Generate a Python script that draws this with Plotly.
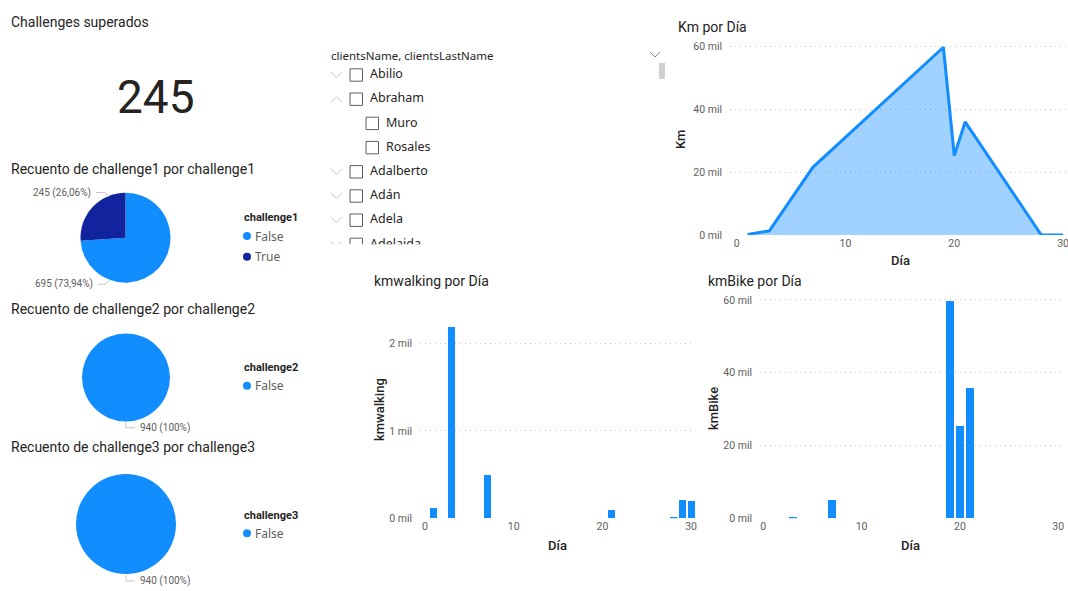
import plotly.graph_objects as go

# ---- data ----
dias_km = [1, 3, 7, 19, 20, 21, 28, 29, 30]
km_total = [200, 1300, 21500, 59600, 25200, 35900, 0, 0, 0]

dias_walk = [1, 3, 7, 21, 28, 29, 30]
km_walk = [120, 2190, 500, 90, 20, 210, 200]

dias_bike = [3, 7, 19, 20, 21]
km_bike = [300, 5000, 59600, 25300, 35800]

ch1_labels = ["False", "True"]
ch1_counts = [695, 245]
ch2_labels = ["False"]
ch2_counts = [940]
ch3_labels = ["False"]
ch3_counts = [940]

slicer_names = ["Abilio", "Abraham", "Muro", "Rosales", "Adalberto", "Adán", "Adela", "Adelaida"]
slicer_levels = [0, 0, 1, 1, 0, 0, 0, 0]
slicer_toggle = ["down", "up", None, None, "down", "down", "down", "down"]

km_ticks = [0, 20000, 40000, 60000]
walk_ticks = [0, 1000, 2000]
dia_ticks = [0, 10, 20, 30]

# ---- style ----
W, H = 1068, 591
BLUE = "#118DFF"
NAVY = "#12239E"
DARK = "#252423"
GREY = "#605E5C"
GRID = "#C8C6C4"
TFONT = "Roboto"
SFONT = "Noto Sans"


def fx(x):
    return x / W


def fy(y):
    return 1 - y / H


def mil(v):
    return f"{v // 1000} mil"


def pct(v, tot):
    return f"{v / tot * 100:.2f}".replace(".", ",") if v != tot else "100"


fig = go.Figure()

# Km por Día (area)
fig.add_trace(go.Scatter(
    x=dias_km, y=km_total, mode="lines", fill="tozeroy",
    line=dict(color=BLUE, width=3), fillcolor="rgba(17,141,255,0.4)",
    xaxis="x", yaxis="y", showlegend=False, hoverinfo="skip"))

# kmwalking por Día
fig.add_trace(go.Bar(
    x=dias_walk, y=km_walk, width=0.8, marker=dict(color=BLUE, line=dict(width=0)),
    xaxis="x2", yaxis="y2", showlegend=False, hoverinfo="skip"))

# kmBike por Día
fig.add_trace(go.Bar(
    x=dias_bike, y=km_bike, width=0.8, marker=dict(color=BLUE, line=dict(width=0)),
    xaxis="x3", yaxis="y3", showlegend=False, hoverinfo="skip"))

# pies
pies = [
    (ch1_labels, ch1_counts, [BLUE, NAVY], (80.5, 170.5), (192.7, 282.7)),
    (ch2_labels, ch2_counts, [BLUE], (82, 170), (333.5, 421.5)),
    (ch3_labels, ch3_counts, [BLUE], (76, 176), (474, 574)),
]
for labels, counts, cols, (x0, x1), (y0, y1) in pies:
    fig.add_trace(go.Pie(
        labels=labels, values=counts, sort=False, direction="clockwise", rotation=0,
        marker=dict(colors=cols, line=dict(width=0)), textinfo="none",
        domain=dict(x=[fx(x0), fx(x1)], y=[fy(y1), fy(y0)]),
        showlegend=False, hoverinfo="skip"))

# slicer list (drawn in its own pixel-scaled axes so the last row is clipped)
row_y = [75 + 24.2 * i for i in range(len(slicer_names))]
text_x = [370 if lv == 0 else 386 for lv in slicer_levels]
fig.add_trace(go.Scatter(
    x=text_x, y=row_y, mode="text", text=slicer_names, textposition="middle right",
    textfont=dict(family=SFONT, size=12.5, color=DARK), cliponaxis=True,
    xaxis="x4", yaxis="y4", showlegend=False, hoverinfo="skip"))

shapes = []
annotations = []

for yc, lv, tog in zip(row_y, slicer_levels, slicer_toggle):
    bx = 350 if lv == 0 else 366
    shapes.append(dict(type="rect", xref="x4", yref="y4", x0=bx, x1=bx + 12.5,
                       y0=yc - 6.2, y1=yc + 6.2, line=dict(color=GREY, width=1),
                       fillcolor="white"))
    if tog == "down":
        path = f"M331,{yc - 3} L336.5,{yc + 2.5} L342,{yc - 3}"
    elif tog == "up":
        path = f"M331,{yc + 3} L336.5,{yc - 2.5} L342,{yc + 3}"
    else:
        path = None
    if path:
        shapes.append(dict(type="path", xref="x4", yref="y4", path=path,
                           line=dict(color=GRID, width=1)))

# slicer header and scrollbar
annotations.append(dict(text="clientsName, clientsLastName", x=fx(329), y=fy(55),
                        xref="paper", yref="paper", xanchor="left", yanchor="middle",
                        showarrow=False, font=dict(family=SFONT, size=11.5, color=DARK)))
shapes.append(dict(type="path", xref="paper", yref="paper",
                   path=f"M{fx(650)},{fy(52)} L{fx(655)},{fy(57)} L{fx(660)},{fy(52)}",
                   line=dict(color="#8A8886", width=1)))
shapes.append(dict(type="rect", xref="paper", yref="paper", x0=fx(659), x1=fx(665),
                   y0=fy(79), y1=fy(63), line=dict(width=0), fillcolor="#D0D0D0"))


def ann(text, x, y, size=13, color=DARK, anchor="left", angle=0, weight="normal", family=TFONT):
    annotations.append(dict(text=text, x=fx(x), y=fy(y), xref="paper", yref="paper",
                            xanchor=anchor, yanchor="middle", showarrow=False, textangle=angle,
                            font=dict(family=family, size=size, color=color, weight=weight)))


# titles
ann("Challenges superados", 9, 22, size=14)
ann(str(ch1_counts[1]), 156, 97, size=46, anchor="center")
ann("Recuento de challenge1 por challenge1", 9, 169, size=14)
ann("Recuento de challenge2 por challenge2", 9, 309, size=14)
ann("Recuento de challenge3 por challenge3", 9, 447, size=14)
ann("Km por Día", 676, 27, size=14)
ann("kmwalking por Día", 372, 281, size=14)
ann("kmBike por Día", 706, 281, size=14)

# axis titles
ann("Km", 681, 140, angle=-90, anchor="center", weight=500)
ann("Día", 900, 260, anchor="center", weight=500)
ann("kmwalking", 379, 410, angle=-90, anchor="center", weight=500)
ann("Día", 557, 545, anchor="center", weight=500)
ann("kmBike", 713, 409, angle=-90, anchor="center", weight=500)
ann("Día", 910, 545, anchor="center", weight=500)

# pie data labels with leader lines
tot1 = sum(ch1_counts)
ann(f"{ch1_counts[1]} ({pct(ch1_counts[1], tot1)}%)", 93, 192.7, size=10, color=GREY, anchor="right")
ann(f"{ch1_counts[0]} ({pct(ch1_counts[0], tot1)}%)", 95, 284.3, size=10, color=GREY, anchor="right")


def leader(points):
    d = "M" + " L".join(f"{fx(x)},{fy(y)}" for x, y in points)
    shapes.append(dict(type="path", xref="paper", yref="paper", path=d,
                       line=dict(color=GRID, width=1)))


leader([(96, 192.5), (105, 192.5), (108.5, 197)])
leader([(98, 284.3), (105, 284.3), (110, 279.5)])

tot2 = sum(ch2_counts)
ann(f"{ch2_counts[0]} ({pct(ch2_counts[0], tot2)}%)", 138, 427.7, size=10, color=GREY)
leader([(125.7, 421.7), (125.7, 427.7), (135, 427.7)])
tot3 = sum(ch3_counts)
ann(f"{ch3_counts[0]} ({pct(ch3_counts[0], tot3)}%)", 138, 581, size=10, color=GREY)
leader([(126, 575), (126, 581), (135, 581)])

# pie legends
legends = [
    ("challenge1", ch1_labels, [BLUE, NAVY], 217.7, [236, 256.7]),
    ("challenge2", ch2_labels, [BLUE], 367.7, [385.7]),
    ("challenge3", ch3_labels, [BLUE], 515, [533.3]),
]
for title, labels, cols, ty, iys in legends:
    ann(title, 242, ty, size=11, weight="bold")
    for lab, col, iy in zip(labels, cols, iys):
        shapes.append(dict(type="circle", xref="paper", yref="paper",
                           x0=fx(243), x1=fx(251), y0=fy(iy + 4), y1=fy(iy - 4),
                           fillcolor=col, line=dict(width=0)))
        ann(lab, 252.5, iy, size=12, color=GREY, family=SFONT)

tickfont = dict(family=TFONT, size=10.5, color=GREY)


def value_axis(y0, y1, rng, vals, anchor):
    return dict(domain=[fy(y0), fy(y1)], range=rng, tickvals=vals, anchor=anchor,
                ticktext=[mil(v) for v in vals], showgrid=True, gridcolor=GRID,
                griddash="1px,4px", gridwidth=1, zeroline=False, showline=False,
                ticks="", tickfont=tickfont, ticklabelstandoff=7, fixedrange=True,
                automargin=False)


def day_axis(x0, x1, rng, anchor):
    return dict(domain=[fx(x0), fx(x1)], range=rng, tickvals=dia_ticks, anchor=anchor,
                ticktext=[str(v) for v in dia_ticks], showgrid=False, zeroline=False,
                showline=False, ticks="", tickfont=tickfont, fixedrange=True,
                automargin=False, ticklabeloverflow="allow")


fig.update_layout(
    width=W, height=H, autosize=False,
    margin=dict(l=0, r=0, t=0, b=0, pad=0),
    paper_bgcolor="white", plot_bgcolor="white",
    bargap=0,
    xaxis=day_axis(730, 1066, [-0.616, 30.27], "y"),
    yaxis=value_axis(235, 40, [0, 61905], km_ticks, "x"),
    xaxis2=day_axis(420, 695, [-0.564, 30.44], "y2"),
    yaxis2=value_axis(518.3, 300, [0, 2500], walk_ticks, "x2"),
    xaxis3=day_axis(760, 1062, [-0.336, 30.38], "y3"),
    yaxis3=value_axis(518.3, 295, [0, 61346], km_ticks, "x3"),
    xaxis4=dict(domain=[fx(325), fx(672)], range=[325, 672], visible=False,
                fixedrange=True, anchor="y4", automargin=False),
    yaxis4=dict(domain=[fy(244.3), fy(62)], range=[244.3, 62], visible=False,
                fixedrange=True, anchor="x4", automargin=False),
    shapes=shapes,
    annotations=annotations,
)

fig.write_html("out.html")
